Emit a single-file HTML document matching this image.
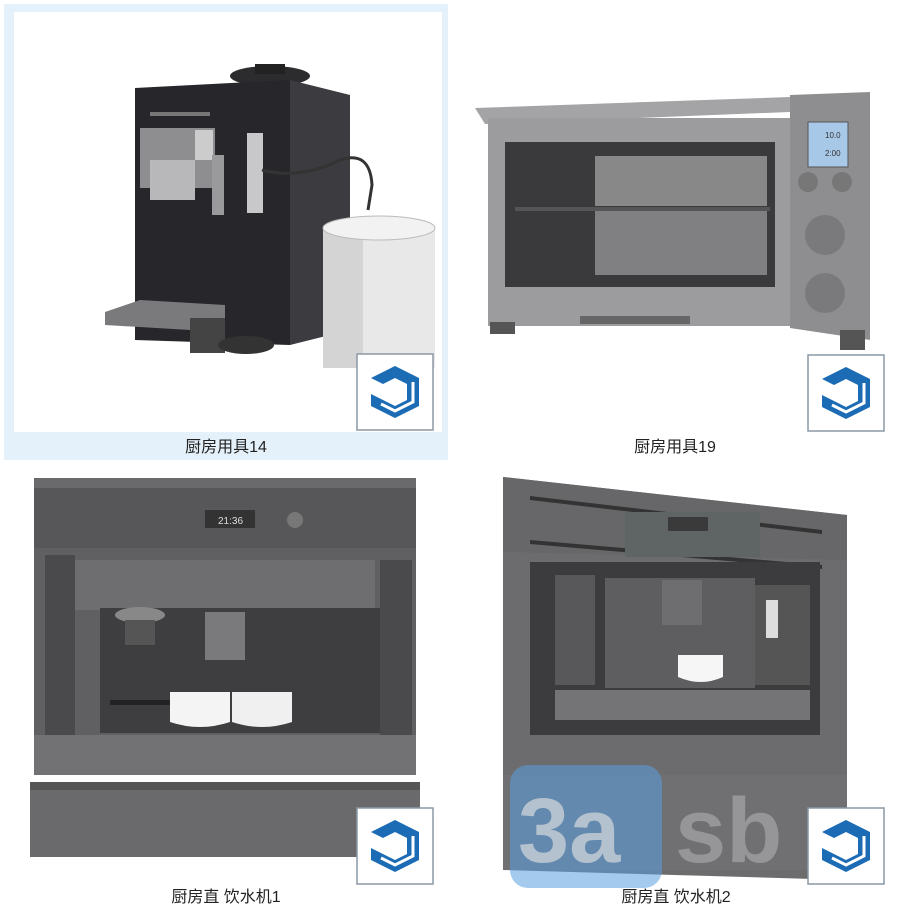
<!DOCTYPE html>
<html><head><meta charset="utf-8"><style>
html,body{margin:0;padding:0;background:#fff;width:900px;height:920px;overflow:hidden}
svg{display:block}
text{font-family:"Liberation Sans","Noto Sans CJK SC",sans-serif}
</style></head><body>
<svg width="900" height="920" viewBox="0 0 900 920" xmlns="http://www.w3.org/2000/svg">
<defs>
<g id="su">
<rect x="0" y="0" width="76" height="76" fill="#fff" stroke="#8c98a4" stroke-width="1.5"/>
<path d="M38 12 L62 24 L62 52 L38 64 L14 52 L14 40 L26 46 L38 52 L50 46 L50 30 L38 24 L26 30 L14 24 Z" fill="#1b6cb4"/>
<path d="M20 30 L38 40 L44 37 L44 33 M20 38 L34 46 M24 50 L38 57 L56 48 L56 28" stroke="#fff" stroke-width="3" fill="none"/>
</g>
</defs>
<rect x="4" y="4" width="444" height="456" fill="#e4f1fa"/>
<rect x="14" y="12" width="428" height="420" fill="#fff"/>

<!-- coffee machine 14 -->
<ellipse cx="270" cy="76" rx="40" ry="10" fill="#2c2c2e"/>
<rect x="255" y="64" width="30" height="10" fill="#222"/>
<polygon points="135,88 290,80 290,345 135,340" fill="#27272b"/>
<polygon points="290,80 350,95 350,330 290,345" fill="#3c3c40"/>
<rect x="140" y="128" width="75" height="60" fill="#8e8e90"/>
<rect x="150" y="160" width="45" height="40" fill="#b8b8ba"/>
<rect x="195" y="130" width="18" height="30" fill="#ccc"/>
<rect x="212" y="155" width="12" height="60" fill="#9a9a9c"/>
<rect x="247" y="133" width="16" height="80" fill="#c8c8ca"/>
<rect x="150" y="112" width="60" height="4" fill="#777"/>
<path d="M262 170 Q300 180 340 160 Q370 150 372 185 L368 210" stroke="#333" stroke-width="3" fill="none"/>
<polygon points="105,312 140,300 225,305 225,322 190,330 105,325" fill="#7a7a7c"/>
<rect x="190" y="318" width="35" height="35" fill="#444"/>
<ellipse cx="246" cy="345" rx="28" ry="9" fill="#333"/>
<rect x="323" y="228" width="112" height="140" fill="#e8e8e8"/>
<rect x="323" y="228" width="40" height="140" fill="#d4d4d4"/>
<ellipse cx="379" cy="228" rx="56" ry="12" fill="#f2f2f2" stroke="#bbb"/>
<use href="#su" x="357" y="354"/>
<text x="226" y="452" font-size="16" text-anchor="middle" fill="#222">厨房用具14</text>

<!-- oven 19 -->
<polygon points="475,108 790,97 790,112 485,124" fill="#a4a4a6"/>
<rect x="488" y="118" width="302" height="208" fill="#9c9c9e"/>
<polygon points="790,95 870,92 870,340 790,328" fill="#8e8e90"/>
<rect x="505" y="142" width="270" height="145" fill="#3a3a3c"/>
<rect x="595" y="156" width="172" height="50" fill="#888"/>
<rect x="595" y="210" width="172" height="65" fill="#808082"/>
<rect x="515" y="207" width="255" height="4" fill="#555"/>
<rect x="808" y="122" width="40" height="45" fill="#a8c8e8" stroke="#555"/>
<text x="825" y="138" font-size="8" fill="#333">10.0</text>
<text x="825" y="156" font-size="8" fill="#333">2:00</text>
<circle cx="808" cy="182" r="10" fill="#777"/><circle cx="842" cy="182" r="10" fill="#777"/>
<circle cx="825" cy="235" r="20" fill="#7a7a7c"/>
<circle cx="825" cy="293" r="20" fill="#7a7a7c"/>
<rect x="490" y="322" width="25" height="12" fill="#555"/>
<rect x="840" y="330" width="25" height="20" fill="#555"/>
<rect x="580" y="316" width="110" height="8" fill="#666"/>
<use href="#su" x="808" y="355"/>
<text x="675" y="452" font-size="16" text-anchor="middle" fill="#222">厨房用具19</text>

<!-- built-in coffee 1 -->
<rect x="34" y="478" width="382" height="70" fill="#575759"/>
<rect x="34" y="478" width="382" height="10" fill="#6a6a6c"/>
<rect x="205" y="510" width="50" height="18" fill="#333"/>
<text x="218" y="524" font-size="10" fill="#ddd">21:36</text>
<circle cx="295" cy="520" r="8" fill="#777"/>
<rect x="34" y="548" width="382" height="200" fill="#606062"/>
<rect x="75" y="560" width="300" height="50" fill="#6e6e70"/>
<rect x="100" y="608" width="280" height="125" fill="#3e3e40"/>
<rect x="45" y="555" width="30" height="190" fill="#4a4a4c"/>
<rect x="380" y="560" width="32" height="185" fill="#4a4a4c"/>
<ellipse cx="140" cy="615" rx="25" ry="8" fill="#888"/>
<rect x="125" y="620" width="30" height="25" fill="#555"/>
<rect x="205" y="612" width="40" height="48" fill="#7a7a7c"/>
<rect x="110" y="700" width="70" height="5" fill="#222"/>
<path d="M170 692 h60 v30 q-30 10 -60 0 z" fill="#f4f4f4"/>
<path d="M232 692 h60 v30 q-30 10 -60 0 z" fill="#f0f0f0"/>
<rect x="34" y="735" width="382" height="40" fill="#727274"/>
<rect x="30" y="782" width="390" height="75" fill="#6a6a6c"/>
<rect x="30" y="782" width="390" height="8" fill="#555"/>
<use href="#su" x="357" y="808"/>
<text x="226" y="902" font-size="16" text-anchor="middle" fill="#222">厨房直 饮水机1</text>

<!-- built-in coffee 2 -->
<polygon points="503,477 847,515 847,880 503,870" fill="#6c6c6e"/>
<polygon points="503,477 847,515 847,560 503,552" fill="#676769"/>
<polygon points="530,496 822,530 822,534 530,500" fill="#333"/>
<polygon points="530,540 822,565 822,569 530,544" fill="#333"/>
<rect x="625" y="512" width="135" height="45" fill="#5f6565"/>
<rect x="668" y="517" width="40" height="14" fill="#3a3a3a"/>
<rect x="530" y="562" width="290" height="173" fill="#3c3c3e"/>
<rect x="555" y="575" width="40" height="110" fill="#58585a"/>
<rect x="605" y="578" width="150" height="110" fill="#5e5e60"/>
<rect x="755" y="585" width="55" height="100" fill="#555"/>
<rect x="662" y="580" width="40" height="45" fill="#6e6e70"/>
<rect x="766" y="600" width="12" height="38" fill="#ddd"/>
<path d="M678 655 h45 v22 q-22 10 -45 0 z" fill="#f6f6f6"/>
<rect x="555" y="690" width="255" height="30" fill="#747476"/>
<rect x="503" y="775" width="344" height="95" fill="#707072"/>
<rect x="510" y="765" width="152" height="123" rx="18" fill="#5aa0e0" opacity="0.55"/>
<text x="518" y="862" font-size="92" font-weight="bold" fill="#cfd5db" opacity="0.75">3a</text>
<text x="675" y="862" font-size="92" font-weight="bold" fill="#a0a0a2" opacity="0.8">sb</text>
<use href="#su" x="808" y="808"/>
<text x="676" y="902" font-size="16" text-anchor="middle" fill="#222">厨房直 饮水机2</text>
</svg>
</body></html>
